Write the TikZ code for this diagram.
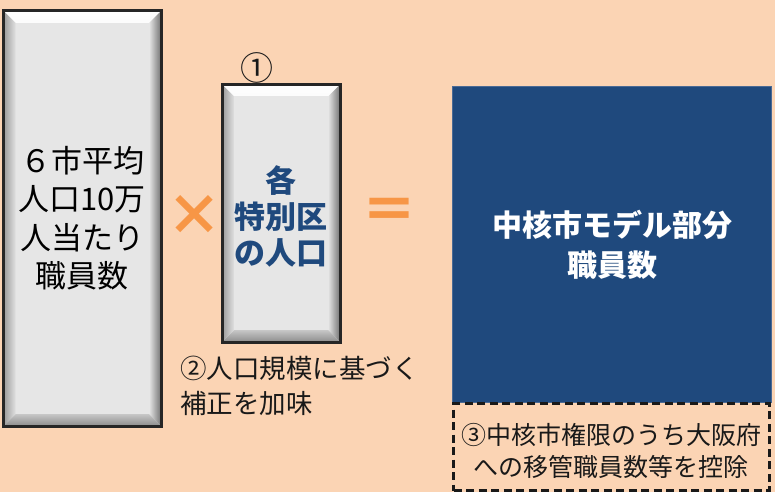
\documentclass[tikz,border=0pt]{standalone}
\usepackage{fontspec}
\setmainfont{Noto Sans CJK JP}
\newfontfamily\jpfont{Noto Sans CJK JP}
\definecolor{bgpeach}{HTML}{FBD4B4}
\definecolor{accorange}{HTML}{F79646}
\definecolor{navy}{HTML}{1F497D}
\definecolor{navyedge}{HTML}{4A6A95}
\definecolor{boxgray}{HTML}{E6E6E6}
\newcommand\bw{12}
\newcommand\bevelrect[4]{%
  \fill[boxgray] (#1,#2) rectangle (#3,#4);
  \shade[top color=white, bottom color=white!85!boxgray]
    (#1,#2) -- (#3,#2) -- ({#3-\bw},{#2+\bw}) -- ({#1+\bw},{#2+\bw}) -- cycle;
  \shade[left color=boxgray, right color=black!55]
    (#3,#2) -- (#3,#4) -- ({#3-\bw},{#4-\bw}) -- ({#3-\bw},{#2+\bw}) -- cycle;
  \shade[top color=black!22, bottom color=black!45]
    (#1,#4) -- (#3,#4) -- ({#3-\bw},{#4-\bw}) -- ({#1+\bw},{#4-\bw}) -- cycle;
  \shade[left color=black!40, right color=black!12]
    (#1,#2) -- ({#1+\bw},{#2+\bw}) -- ({#1+\bw},{#4-\bw}) -- (#1,#4) -- cycle;
  \fill[boxgray] ({#1+\bw},{#2+\bw}) rectangle ({#3-\bw},{#4-\bw});
  \draw[line width=3pt, black!85] (#1,#2) rectangle (#3,#4);
}
\tikzset{
  boxtext/.style={align=center, inner sep=0pt},
  signtext/.style={text=accorange, inner sep=0pt, font=\fontsize{56}{56}\selectfont\bfseries},
  note/.style={inner sep=0pt, text=black!90},
  dashbox/.style={draw=black!90, line width=3pt, dash pattern=on 8pt off 4.5pt}
}
\begin{document}
\begin{tikzpicture}[x=1pt,y=-1pt]
\useasboundingbox (0,0) rectangle (775,492);
\fill[bgpeach] (0,0) rectangle (775,492);

% left bevelled box
\bevelrect{3.5}{11}{161}{426}
\node[boxtext, font=\fontsize{31}{38.5}\selectfont] (avg) at (82,218)
  {６市平均\\人口10万\\人当たり\\職員数};

% multiplication sign
\node[signtext] (times) at (194,215) {×};

% second bevelled box
\bevelrect{222}{84.5}{340}{342}
\node[boxtext, text=navy, font=\fontsize{31}{36}\selectfont\bfseries] (pop) at (281,216)
  {各\\特別区\\の人口};
\node[note, font=\fontsize{33}{33}\selectfont] (n1) at (257,68) {①};
\node[note, anchor=west, align=left, font=\fontsize{26.5}{35}\selectfont] (n2) at (180,386)
  {②人口規模に基づく\\補正を加味};

% equals sign
\node[signtext] (eq) at (389,214) {＝};

% navy result box
\node[draw=navyedge, line width=1pt, fill=navy, minimum width=319pt, minimum height=316pt,
  inner sep=0pt] (res) at (612,244.5) {};
\node[boxtext, text=white, font=\fontsize{30}{40}\selectfont\bfseries] (restext) at (612,245)
  {中核市モデル部分\\職員数};

% dashed deduction box
\node[dashbox, minimum width=316pt, minimum height=87pt, inner sep=0pt] (ded) at (611.5,447) {};
\node[note, align=center, font=\fontsize{25}{32}\selectfont] (dedtext) at (611,451)
  {③中核市権限のうち大阪府\\への移管職員数等を控除};
\end{tikzpicture}
\end{document}
